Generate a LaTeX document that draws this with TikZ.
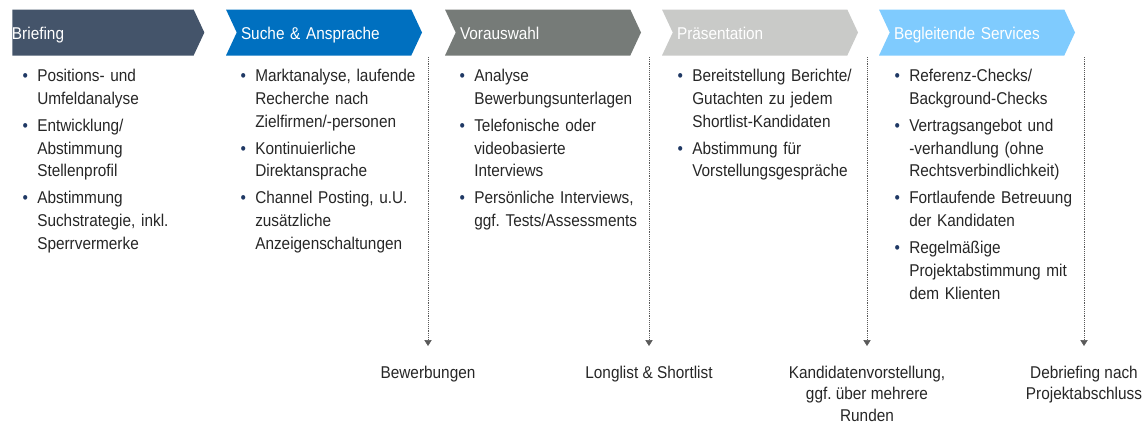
\documentclass[tikz,border=0pt]{standalone}
\usepackage{fontspec}
\setmainfont{Liberation Sans}[FakeStretch=0.9]
\usepackage{enumitem}
\usetikzlibrary{shapes.symbols, arrows.meta, positioning}

\definecolor{briefslate}{HTML}{44546A}
\definecolor{searchblue}{HTML}{0070C0}
\definecolor{selectgray}{HTML}{767B78}
\definecolor{presentgray}{HTML}{C9CAC8}
\definecolor{serviceblue}{HTML}{7FCBFE}
\definecolor{textgray}{HTML}{262626}
\definecolor{bulletnavy}{HTML}{1F3864}
\definecolor{dotgray}{HTML}{595959}

\setlist[itemize]{label={\textcolor{bulletnavy}{\textbullet}}, leftmargin=14.25pt, labelsep=7pt,
  itemsep=3pt, topsep=0pt, parsep=0pt, partopsep=0pt}
\frenchspacing

\begin{document}
\begin{tikzpicture}[x=0.75pt, y=-0.75pt,
    phase/.style={signal, signal to=east, signal from=west, signal pointer angle=130,
      minimum width=147pt, minimum height=34.5pt, inner sep=0pt,
      text width=124.5pt, text height=10pt, text depth=0pt, align=left, text=white,
      font=\fontsize{12.8}{15}\selectfont},
    firstphase/.style={phase, signal from=nowhere, minimum width=144pt},
    points/.style={anchor=north west, inner sep=0pt, text width=150pt, align=left,
      text=textgray, font=\fontsize{12.8}{17.2}\selectfont},
    outcome/.style={anchor=north, inner sep=0pt, align=center, text=textgray,
      font=\fontsize{12.8}{16}\selectfont},
    handover/.style={draw=dotgray, densely dotted, -{Triangle[width=5.5pt,length=4.5pt]}, shorten >=15pt}
]
    \useasboundingbox (0,0) rectangle (1148,425);

    % phases
    \node[firstphase, fill=briefslate] (briefing) at (103,32.5) {\hspace*{-6pt}Briefing};
    \node[phase, fill=searchblue] (search) at (324,32.5) {Suche \& Ansprache};
    \node[phase, fill=selectgray] (preselect) at (543,32.5) {Vorauswahl};
    \node[phase, fill=presentgray] (present) at (760,32.5) {Präsentation};
    \node[phase, fill=serviceblue] (services) at (977,32.5) {Begleitende Services};

    % activities
    \node[points] (briefinglist) at (18,58) {\begin{itemize}
        \item Positions- und\newline Umfeldanalyse
        \item Entwicklung/\newline Abstimmung\newline Stellenprofil
        \item Abstimmung\newline Suchstrategie, inkl.\newline Sperrvermerke
      \end{itemize}};
    \node[points] (searchlist) at (236,58) {\begin{itemize}
        \item Marktanalyse, laufende\newline Recherche nach\newline Zielfirmen/-personen
        \item Kontinuierliche\newline Direktansprache
        \item Channel Posting, u.U.\newline zusätzliche\newline Anzeigenschaltungen
      \end{itemize}};
    \node[points] (preselectlist) at (455,58) {\begin{itemize}
        \item Analyse\newline Bewerbungsunterlagen
        \item Telefonische oder\newline videobasierte\newline Interviews
        \item Persönliche Interviews,\newline ggf. Tests/Assessments
      \end{itemize}};
    \node[points] (presentlist) at (673,58) {\begin{itemize}
        \item Bereitstellung Berichte/\newline Gutachten zu jedem\newline Shortlist-Kandidaten
        \item Abstimmung für\newline Vorstellungsgespräche
      \end{itemize}};
    \node[points] (serviceslist) at (890,58) {\begin{itemize}
        \item Referenz-Checks/\newline Background-Checks
        \item Vertragsangebot und\newline -verhandlung (ohne\newline Rechtsverbindlichkeit)
        \item Fortlaufende Betreuung\newline der Kandidaten
        \item Regelmäßige\newline Projektabstimmung mit\newline dem Klienten
      \end{itemize}};

    % results
    \coordinate (tap1) at (428,57);
    \coordinate (tap2) at (649,57);
    \coordinate (tap3) at (867,57);
    \coordinate (tap4) at (1084,57);
    \node[outcome] (applications) at (428,366) {Bewerbungen};
    \node[outcome] (shortlist) at (649,366) {Longlist \& Shortlist};
    \node[outcome] (introduction) at (867,366) {Kandidatenvorstellung,\\ ggf. über mehrere\\ Runden};
    \node[outcome] (debriefing) at (1084,366) {Debriefing nach\\ Projektabschluss};

    \draw[handover] (tap1) -- (applications);
    \draw[handover] (tap2) -- (shortlist);
    \draw[handover] (tap3) -- (introduction);
    \draw[handover] (tap4) -- (debriefing);
\end{tikzpicture}
\end{document}
